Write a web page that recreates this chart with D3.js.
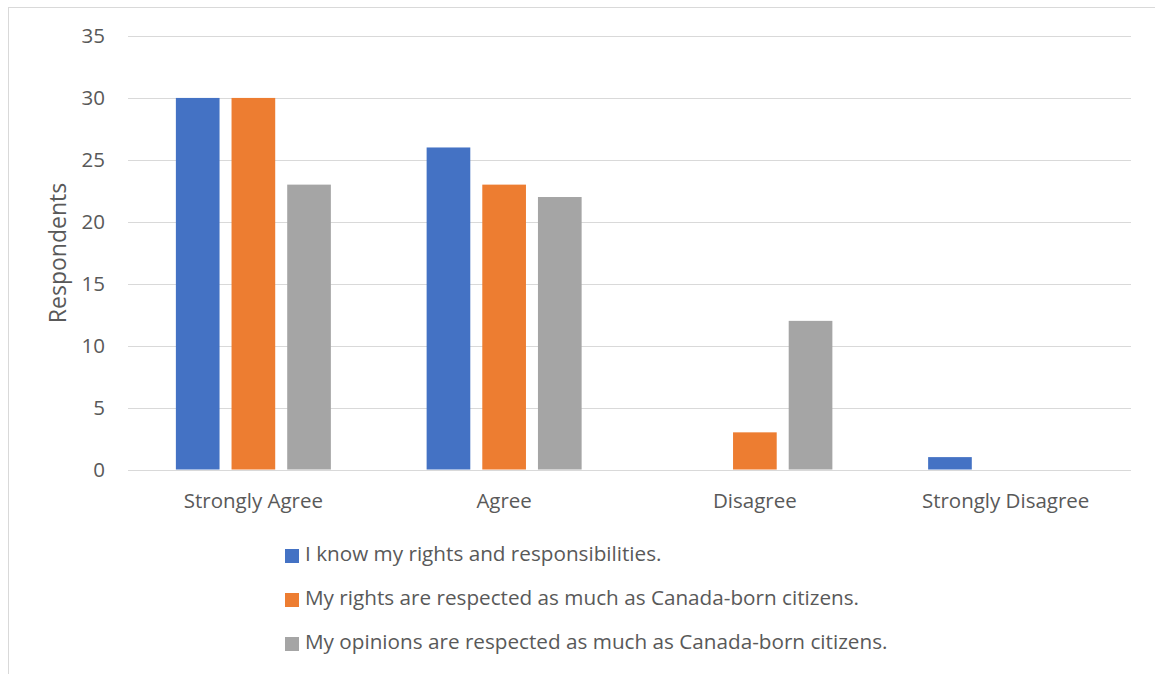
<!DOCTYPE html>
<html><head><meta charset="utf-8">
<script src="https://cdn.jsdelivr.net/npm/d3@7"></script>
<style>body{margin:0;background:#fff}svg{display:block}text{font-family:"Open Sans",sans-serif;fill:#595959}</style>
</head><body>
<svg id="c" width="1155" height="674"></svg>
<script>
const categories = ["Strongly Agree","Agree","Disagree","Strongly Disagree"];
const seriesNames = ["I know my rights and responsibilities.","My rights are respected as much as Canada-born citizens.","My opinions are respected as much as Canada-born citizens."];
const knowRights = [30,26,0,1];
const rightsRespected = [30,23,3,0];
const opinionsRespected = [23,22,12,0];
const colors = ["#4472C4","#ED7D31","#A5A5A5"];
const yTicks = [0,5,10,15,20,25,30,35];
const seriesValues = [knowRights, rightsRespected, opinionsRespected];

const svg = d3.select("#c");
svg.append("rect").attr("x",8.5).attr("y",7.5).attr("width",1200).attr("height",700)
  .attr("fill","none").attr("stroke","#d9d9d9").attr("stroke-width",1);

const L=128, R=1131, T=36, B=469.5;
const x = d3.scaleBand().domain(categories).range([L,R]).paddingInner(0).paddingOuter(0);
const y = d3.scaleLinear().domain([0,35]).range([B,T]);
const groupW = 155, barW = 43.7, gap = 12;
const xs = d3.scaleBand().domain(d3.range(3)).range([0,groupW]).paddingInner(gap/(barW+gap)).paddingOuter(0);

// grid
svg.append("g").selectAll("line").data(yTicks).join("line")
  .attr("x1",L).attr("x2",R).attr("y1",d=>Math.round(y(d))+0.5).attr("y2",d=>Math.round(y(d))+0.5)
  .attr("stroke","#d9d9d9").attr("stroke-width",1);

// y axis labels
const yAxis = d3.axisLeft(y).tickValues(yTicks).tickSize(0).tickPadding(0);
const ya = svg.append("g").attr("transform",`translate(105,0)`).call(yAxis);
ya.select(".domain").remove();
ya.selectAll("text").style("font-size","20.5px").attr("fill","#595959").attr("font-family","Open Sans");

// bars
seriesValues.forEach((vals,si)=>{
  svg.append("g").selectAll("rect").data(vals.map((v,i)=>({c:categories[i],v}))).join("rect")
    .attr("x",d=>x(d.c)+(x.bandwidth()-groupW)/2+xs(si))
    .attr("width",xs.bandwidth())
    .attr("y",d=>y(d.v)).attr("height",d=>B-y(d.v))
    .attr("fill",colors[si]);
});

// x axis labels
const xAxis = d3.axisBottom(x).tickSize(0).tickPadding(0);
const xa = svg.append("g").attr("transform",`translate(0,493.5)`).call(xAxis);
xa.select(".domain").remove();
xa.selectAll("text").style("font-size","20.5px").attr("fill","#595959").attr("font-family","Open Sans");

// y title
svg.append("text").attr("transform","translate(66,253) rotate(-90)").attr("text-anchor","middle")
  .style("font-size","23px").text("Respondents");

// legend
const lg = svg.append("g");
seriesNames.forEach((n,i)=>{
  const cy = 556 + i*44;
  lg.append("rect").attr("x",285).attr("y",cy-7).attr("width",14).attr("height",14).attr("fill",colors[i]);
  lg.append("text").attr("x",305).attr("y",cy+5).style("font-size","20.7px").text(n);
});
</script>
</body></html>
